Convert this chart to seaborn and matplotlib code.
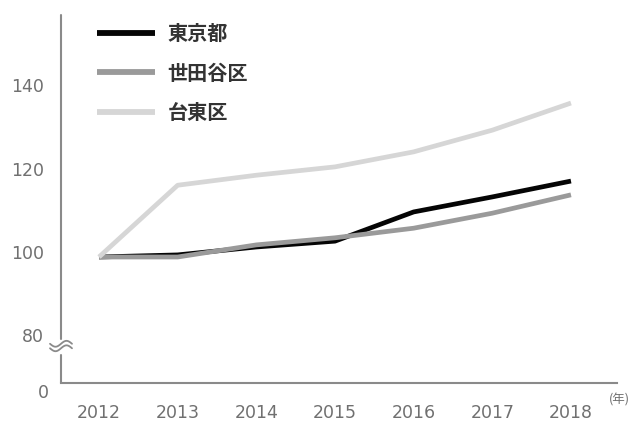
import numpy as np
import pandas as pd
import matplotlib
matplotlib.use("Agg")
import matplotlib.pyplot as plt
import seaborn as sns

# Index values by year (2012 ≈ 100)
years = [2012, 2013, 2014, 2015, 2016, 2017, 2018]
tokyo = [98.8, 99.3, 101.2, 102.6, 109.6, 113.2, 117.0]
setagaya = [98.8, 98.8, 101.7, 103.4, 105.7, 109.3, 113.7]
taito = [98.8, 116.0, 118.4, 120.4, 124.0, 129.2, 135.7]
series_names = ["東京都", "世田谷区", "台東区"]
y_ticks = [80, 100, 120, 140]
x_unit = "(年)"

sns.set_theme(style="white")
plt.rcParams["font.family"] = ["Noto Sans CJK JP", "DejaVu Sans"]

df = pd.DataFrame({
    "year": years * 3,
    "value": tokyo + setagaya + taito,
    "area": sum([[n] * len(years) for n in series_names], []),
})
palette = {"東京都": "#050505", "世田谷区": "#9a9a9a", "台東区": "#d6d6d6"}

fig = plt.figure(figsize=(6.39, 4.21), dpi=100)
ax = fig.add_axes([61 / 639, 38 / 421, (617 - 61) / 639, (406 - 38) / 421])

sns.lineplot(data=df, x="year", y="value", hue="area", hue_order=series_names,
             palette=palette, linewidth=3.4, ax=ax, legend=True)
for ln in ax.get_lines():
    ln.set_solid_capstyle("butt")
    ln.set_solid_joinstyle("round")

y_lo, y_hi = 68.6, 156.8
ax.set_xlim(2011.517, 2018.585)
ax.set_ylim(y_lo, y_hi)
ax.set_xlabel("")
ax.set_ylabel("")

axis_col = "#8a8a8a"
text_col = "#707070"
tick_font = dict(family="DejaVu Sans", size=12.5)

ax.set_xticks(years)
ax.set_xticklabels([str(y) for y in years], fontdict=tick_font)
ax.set_yticks(y_ticks)
ax.set_yticklabels([str(v) for v in y_ticks], fontdict=tick_font)
ax.tick_params(axis="both", length=0, labelcolor=text_col)
ax.tick_params(axis="x", pad=15)
ax.tick_params(axis="y", pad=12)

for side in ["top", "right", "left"]:
    ax.spines[side].set_visible(False)
ax.spines["bottom"].set_color(axis_col)
ax.spines["bottom"].set_linewidth(1.5)

# Broken y axis: two segments with a wavy break mark
break_lo, break_hi = 75.2, 79.2
x0 = ax.get_xlim()[0]
frac = lambda v: (v - y_lo) / (y_hi - y_lo)
ax.axvline(x0, ymin=0, ymax=frac(break_lo), color=axis_col, lw=1.5, clip_on=False)
ax.axvline(x0, ymin=frac(break_hi), ymax=1, color=axis_col, lw=1.5, clip_on=False)
t = np.linspace(-1, 1, 40)
wx = t * 11 / 556
for off in (0.0, 4.5):
    wy = frac(78.0) - off / 368 + 0.008 * np.sin(t * np.pi)
    ax.plot(wx, wy, transform=ax.transAxes, color=axis_col, lw=1.3, clip_on=False)

# "0" label just below the baseline
ax.text(-12 / 556, -10 / 368, "0", transform=ax.transAxes, ha="right", va="center",
        color=text_col, **{"fontfamily": "DejaVu Sans", "fontsize": 12.5})
ax.text(1.005, -0.045, x_unit, transform=ax.transAxes, ha="center", va="center",
        fontsize=9, color=text_col)

handles, labels = ax.get_legend_handles_labels()
for h in handles:
    h.set_linewidth(4.2)
    h.set_solid_capstyle("butt")
leg = ax.legend(handles, labels, loc="upper left",
                bbox_to_anchor=(97 / 639, 1 - 23 / 421), bbox_transform=fig.transFigure,
                frameon=False, fontsize=14.5, handlelength=2.9, handletextpad=0.6,
                labelspacing=0.92, borderpad=0, borderaxespad=0)
for txt in leg.get_texts():
    txt.set_color("#333333")
    txt.set_fontweight("bold")

fig.savefig("out.png", dpi=100, facecolor="white")
